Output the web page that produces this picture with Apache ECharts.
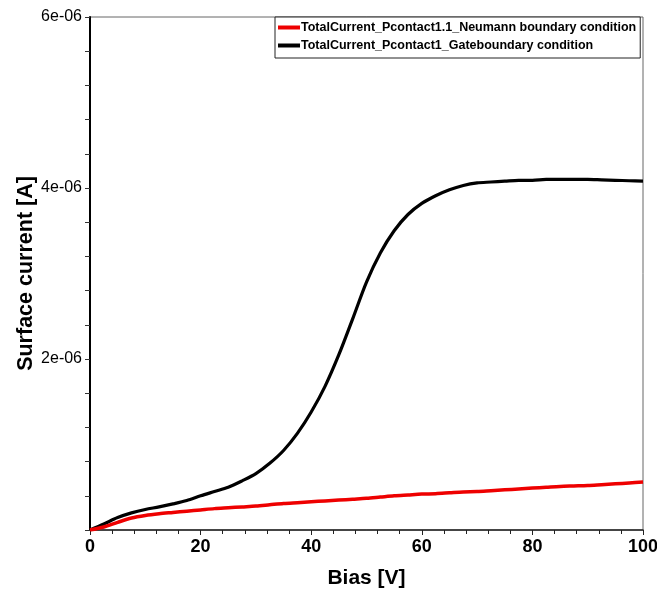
<!DOCTYPE html>
<html>
<head>
<meta charset="utf-8">
<script src="https://cdn.jsdelivr.net/npm/echarts@6/dist/echarts.min.js"></script>
<style>
html,body{margin:0;padding:0;background:#fff;}
#chart{width:657px;height:590px;}
</style>
</head>
<body>
<div id="chart"></div>
<script>
// Bias [V]
const bias = [0,2.5,5,7.5,10,12.5,15,17.5,20,22.5,25,27.5,30,32.5,35,37.5,40,42.5,45,47.5,50,52.5,55,57.5,60,62.5,65,67.5,70,72.5,75,77.5,80,82.5,85,87.5,90,92.5,95,97.5,100];
// Surface current, in units of 1e-6 A
const gateCurrent = [0,0.07,0.145,0.20,0.24,0.27,0.305,0.345,0.40,0.45,0.50,0.575,0.66,0.78,0.93,1.13,1.38,1.68,2.05,2.47,2.90,3.24,3.50,3.69,3.82,3.91,3.98,4.03,4.06,4.07,4.08,4.09,4.09,4.10,4.10,4.10,4.10,4.095,4.09,4.085,4.08];
const neumannCurrent = [0,0.035,0.09,0.14,0.17,0.19,0.205,0.22,0.235,0.25,0.26,0.27,0.28,0.295,0.31,0.32,0.33,0.34,0.35,0.36,0.37,0.385,0.40,0.41,0.42,0.425,0.435,0.445,0.45,0.46,0.47,0.48,0.49,0.50,0.51,0.515,0.52,0.53,0.54,0.55,0.56];

const seriesNames = ['TotalCurrent_Pcontact1.1_Neumann boundary condition','TotalCurrent_Pcontact1_Gateboundary condition'];
const yTicks = [0,2,4,6];
const xTicks = [0,20,40,60,80,100];

const pair = (xs, ys) => xs.map((x, i) => [x, ys[i]]);
const font = '"Liberation Sans", Arial, sans-serif';

const chart = echarts.init(document.getElementById('chart'), null, {renderer: 'canvas'});
chart.setOption({
  animation: false,
  backgroundColor: '#fff',
  grid: {left: 90, right: 14, top: 17, bottom: 60, show: true, borderColor: '#666', borderWidth: 1,
         containLabel: false, outerBoundsMode: 'none'},
  legend: {
    orient: 'vertical', left: 275, top: 17,
    data: seriesNames,
    itemWidth: 22, itemHeight: 4, itemGap: 5,
    icon: 'rect',
    padding: [4, 4, 6, 3],
    borderColor: '#222', borderWidth: 1, backgroundColor: '#fff',
    textStyle: {fontFamily: font, fontWeight: 'bold', fontSize: 12.5, color: '#000', padding: [0,0,0,-4]}
  },
  xAxis: {
    type: 'value', min: xTicks[0], max: xTicks[xTicks.length-1], interval: 20,
    name: 'Bias [V]', nameLocation: 'middle', nameGap: 38, nameMoveOverlap: false,
    nameTextStyle: {fontFamily: font, fontWeight: 'bold', fontSize: 21, color: '#000'},
    axisLine: {lineStyle: {color: '#222', width: 1.5}},
    axisTick: {inside: false, length: 5, lineStyle: {color: '#222'}},
    minorTick: {show: true, splitNumber: 5, length: 4, lineStyle: {color: '#222'}},
    splitLine: {show: false},
    axisLabel: {fontFamily: font, fontWeight: 'bold', fontSize: 18, color: '#000', margin: 8}
  },
  yAxis: {
    type: 'value', min: yTicks[0], max: yTicks[yTicks.length-1], interval: 2,
    name: 'Surface current [A]', nameLocation: 'middle', nameGap: 53, nameMoveOverlap: false,
    nameTextStyle: {fontFamily: font, fontWeight: 'bold', fontSize: 21.5, color: '#000'},
    axisLine: {lineStyle: {color: '#000', width: 2}},
    axisTick: {inside: false, length: 5, lineStyle: {color: '#333'}},
    minorTick: {show: true, splitNumber: 5, length: 5, lineStyle: {color: '#333'}},
    splitLine: {show: false},
    axisLabel: {fontFamily: font, fontSize: 16, color: '#000', margin: 8,
      formatter: v => v === 0 ? '' : v + 'e-06'}
  },
  series: [
    {name: seriesNames[0], type: 'line', data: pair(bias, neumannCurrent), smooth: 0.3,
     showSymbol: false, z: 3, lineStyle: {color: '#ee0000', width: 3.5}, itemStyle: {color: '#ee0000'}},
    {name: seriesNames[1], type: 'line', data: pair(bias, gateCurrent), smooth: 0.3,
     showSymbol: false, z: 2, lineStyle: {color: '#000', width: 3.2}, itemStyle: {color: '#000'}}
  ]
});
</script>
</body>
</html>
